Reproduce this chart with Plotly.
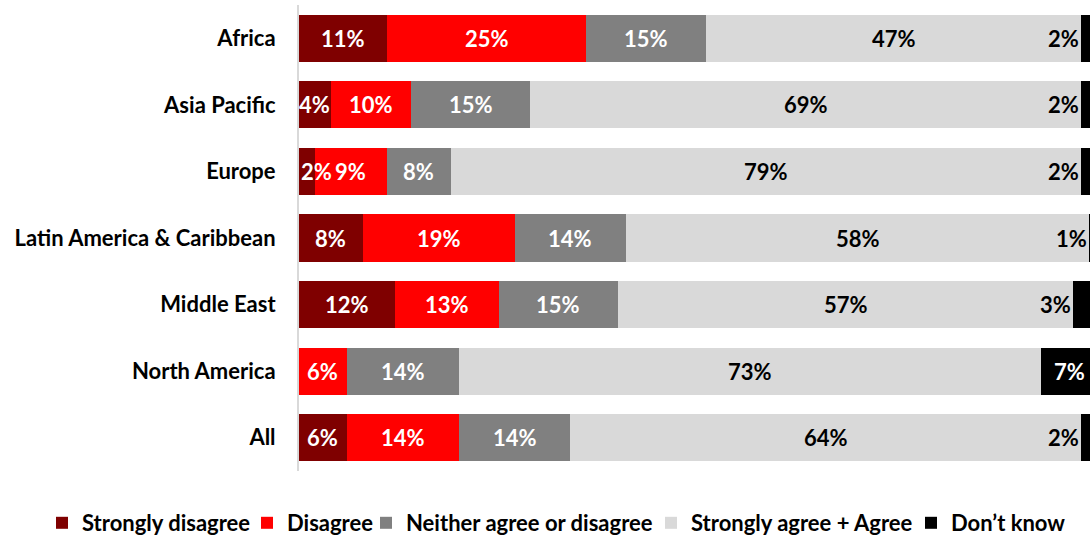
import plotly.graph_objects as go

regions = ["Africa", "Asia Pacific", "Europe", "Latin America & Caribbean",
           "Middle East", "North America", "All"]
series_names = ["Strongly disagree", "Disagree", "Neither agree or disagree",
                "Strongly agree + Agree", "Don\u2019t know"]
strongly_disagree = [11, 4, 2, 8, 12, 0, 6]
disagree = [25, 10, 9, 19, 13, 6, 14]
neither = [15, 15, 8, 14, 15, 14, 14]
agree = [47, 69, 79, 58, 57, 73, 64]
dont_know = [2, 2, 2, 1, 3, 7, 2]

colors = ["#7F0000", "#FF0000", "#808080", "#D9D9D9", "#000000"]
text_colors = ["white", "white", "white", "black", "white"]
FONT = "Lato"
FS = 22
W, H = 1090, 537
# left edge (px) of each legend entry's text in the reference
legend_text_px = [82, 287, 406, 691, 951]

fig = go.Figure()
all_series = [strongly_disagree, disagree, neither, agree, dont_know]
legend_ids = ["legend"] + [f"legend{k}" for k in range(2, 6)]
for i, (name, vals) in enumerate(zip(series_names, all_series)):
    fig.add_trace(go.Bar(
        y=regions, x=vals, name=name, orientation="h",
        marker=dict(color=colors[i], line=dict(width=0)),
        hoverinfo="skip", legend=legend_ids[i], showlegend=True,
    ))

# data labels, positioned from the cumulative values
annotations = []
for r_idx, region in enumerate(regions):
    start = 0
    for s_idx, vals in enumerate(all_series):
        v = vals[r_idx]
        if v > 0:
            color = text_colors[s_idx]
            if s_idx == 4 and v < 5:
                x, anchor, color = start, "right", "black"
            elif s_idx == 0 and v <= 2:
                x, anchor = start, "left"
            else:
                x, anchor = start + v / 2, "center"
            annotations.append(dict(
                x=x, y=region, xref="x", yref="y", text=f"{v}%",
                showarrow=False, xanchor=anchor, yanchor="middle",
                font=dict(family=FONT, size=FS, color=color, weight="bold"),
            ))
        start += v

layout_legends = {}
for i, lid in enumerate(legend_ids):
    layout_legends[lid] = dict(
        orientation="h", xref="container", yref="container",
        x=(legend_text_px[i] - 40) / W, xanchor="left",
        y=1 - 523 / H, yanchor="middle",
        font=dict(family=FONT, size=FS, weight="bold", color="black"),
        itemwidth=30, bgcolor="rgba(0,0,0,0)", visible=True,
    )

fig.update_layout(
    width=W, height=H, showlegend=True,
    barmode="stack", bargap=0.29,
    margin=dict(l=299, r=0, t=5, b=66),
    plot_bgcolor="white", paper_bgcolor="white",
    font=dict(family=FONT, size=FS, color="black"),
    annotations=annotations,
    xaxis=dict(range=[0, 99.1], visible=False, fixedrange=True),
    yaxis=dict(autorange="reversed", showline=True, linecolor="#D9D9D9",
               linewidth=2, ticks="", ticklabelstandoff=17, fixedrange=True,
               tickfont=dict(family=FONT, size=FS, weight="bold", color="black")),
    **layout_legends,
)

fig.write_html("out.html", config={"displayModeBar": False},
               post_script="document.body.style.margin='0';document.body.style.overflow='hidden';")
